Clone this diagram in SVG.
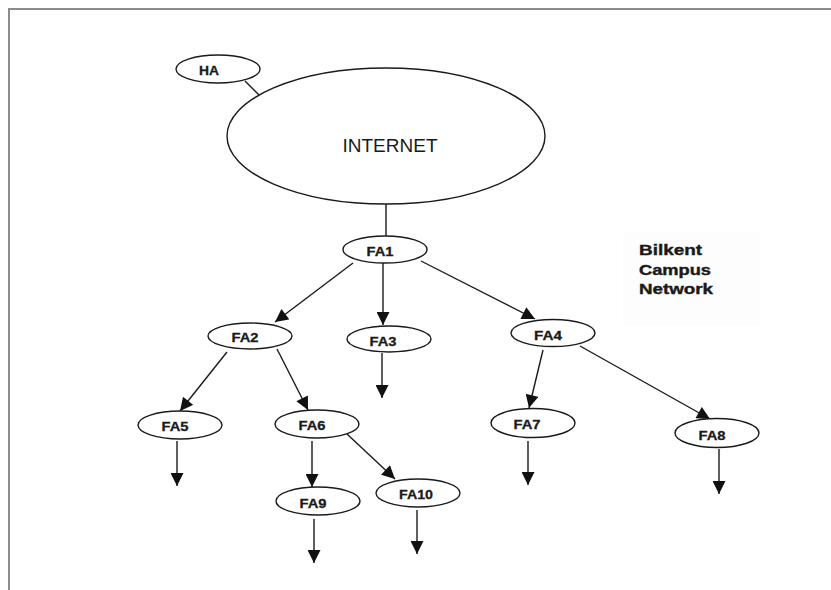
<svg xmlns="http://www.w3.org/2000/svg" width="831" height="590" viewBox="0 0 831 590">
<defs>
<marker id="ah" viewBox="0 0 10 10" refX="10" refY="5" markerWidth="14" markerHeight="13" markerUnits="userSpaceOnUse" orient="auto">
<path d="M0,0 L10,5 L0,10 z" fill="#111"/>
</marker>
</defs>
<style>
.n{fill:#fff;stroke:#1a1a1a;stroke-width:1.4}
.t{font-family:"Liberation Sans",Arial,sans-serif;font-weight:bold;font-size:13px;fill:#1a1a1a;text-anchor:middle;stroke:#1a1a1a;stroke-width:0.3}
.c{stroke:#1a1a1a;stroke-width:1.4;fill:none}
.a{stroke:#1a1a1a;stroke-width:1.4;fill:none;marker-end:url(#ah)}
.b{font-family:"Liberation Sans",Arial,sans-serif;font-weight:bold;font-size:15px;fill:#1a1a1a;stroke:#1a1a1a;stroke-width:0.4}
</style>
<rect x="0" y="0" width="831" height="590" fill="#fff"/>
<rect x="9" y="9" width="840" height="600" fill="none" stroke="#8c8c8c" stroke-width="2"/>
<rect x="623" y="233" width="137" height="93" fill="#fdfdfd"/>
<g id="connectors">
<line class="c" x1="245" y1="81" x2="259" y2="95"/>
<line class="c" x1="386" y1="204" x2="386" y2="236"/>
<line class="a" x1="353" y1="263" x2="275" y2="322"/>
<line class="a" x1="383" y1="263" x2="383" y2="325"/>
<line class="a" x1="421" y1="261" x2="535" y2="319"/>
<line class="a" x1="382" y1="353" x2="382" y2="398"/>
<line class="a" x1="227" y1="352" x2="180" y2="411"/>
<line class="a" x1="277" y1="349" x2="308" y2="410"/>
<line class="a" x1="543" y1="350" x2="529" y2="408"/>
<line class="a" x1="580" y1="346" x2="710" y2="419"/>
<line class="a" x1="177" y1="441" x2="177" y2="486"/>
<line class="a" x1="312" y1="441" x2="312" y2="487"/>
<line class="a" x1="347" y1="434" x2="395" y2="479"/>
<line class="a" x1="314" y1="519" x2="314" y2="563"/>
<line class="a" x1="417" y1="510" x2="417" y2="554"/>
<line class="a" x1="528" y1="441" x2="528" y2="485"/>
<line class="a" x1="719" y1="449" x2="719" y2="494"/>
</g>
<g id="HA"><ellipse class="n" cx="218" cy="69" rx="42" ry="14"/><text class="t" x="209" y="75" textLength="20" lengthAdjust="spacingAndGlyphs">HA</text></g>
<g id="INTERNET"><ellipse class="n" cx="386" cy="136" rx="159" ry="68"/><text x="390" y="152" font-family="Liberation Sans,Arial,sans-serif" font-size="19" fill="#1a1a1a" text-anchor="middle">INTERNET</text></g>
<g id="FA1"><ellipse class="n" cx="385" cy="249.5" rx="42" ry="13.5"/><text class="t" x="380" y="256" textLength="27" lengthAdjust="spacingAndGlyphs">FA1</text></g>
<g id="FA2"><ellipse class="n" cx="250" cy="336" rx="42" ry="13"/><text class="t" x="245" y="342" textLength="27" lengthAdjust="spacingAndGlyphs">FA2</text></g>
<g id="FA3"><ellipse class="n" cx="389" cy="339" rx="42" ry="13"/><text class="t" x="383" y="346" textLength="27" lengthAdjust="spacingAndGlyphs">FA3</text></g>
<g id="FA4"><ellipse class="n" cx="553" cy="333" rx="42" ry="13.5"/><text class="t" x="548" y="340" textLength="28" lengthAdjust="spacingAndGlyphs">FA4</text></g>
<g id="FA5"><ellipse class="n" cx="180" cy="425" rx="42" ry="14"/><text class="t" x="175" y="431" textLength="27" lengthAdjust="spacingAndGlyphs">FA5</text></g>
<g id="FA6"><ellipse class="n" cx="317" cy="424" rx="42" ry="14"/><text class="t" x="312" y="430" textLength="27" lengthAdjust="spacingAndGlyphs">FA6</text></g>
<g id="FA7"><ellipse class="n" cx="533" cy="423" rx="42" ry="14.5"/><text class="t" x="527" y="429" textLength="27" lengthAdjust="spacingAndGlyphs">FA7</text></g>
<g id="FA8"><ellipse class="n" cx="717" cy="433" rx="42" ry="14.5"/><text class="t" x="712" y="440" textLength="27" lengthAdjust="spacingAndGlyphs">FA8</text></g>
<g id="FA9"><ellipse class="n" cx="318" cy="501" rx="42" ry="14"/><text class="t" x="313" y="508" textLength="27" lengthAdjust="spacingAndGlyphs">FA9</text></g>
<g id="FA10"><ellipse class="n" cx="418" cy="493" rx="42" ry="14"/><text class="t" x="416" y="499" textLength="34" lengthAdjust="spacingAndGlyphs">FA10</text></g>
<g id="label">
<text class="b" x="639" y="255" textLength="63" lengthAdjust="spacingAndGlyphs">Bilkent</text>
<text class="b" x="639" y="275" textLength="72" lengthAdjust="spacingAndGlyphs">Campus</text>
<text class="b" x="639" y="294" textLength="74" lengthAdjust="spacingAndGlyphs">Network</text>
</g>
</svg>
